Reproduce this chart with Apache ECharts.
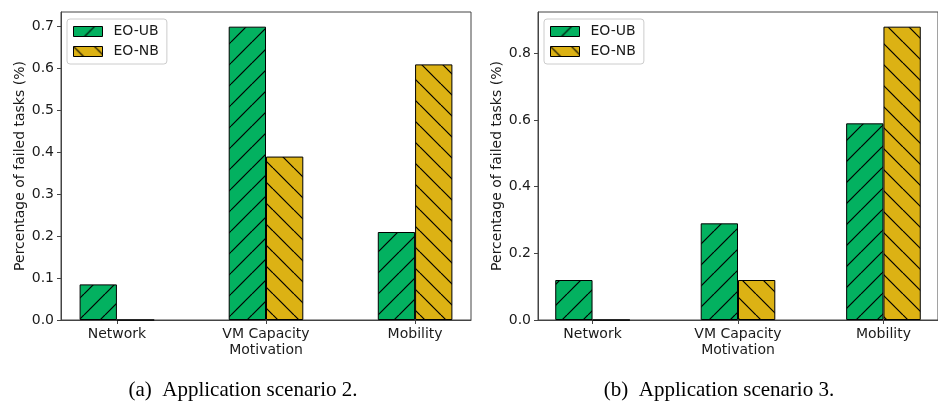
<!DOCTYPE html>
<html>
<head>
<meta charset="utf-8">
<script src="https://cdn.jsdelivr.net/npm/echarts@6/dist/echarts.min.js"></script>
<style>
  html, body { margin: 0; padding: 0; background: #fff; }
  #chart { width: 938px; height: 401px; }
</style>
</head>
<body>
<div id="chart"></div>
<script>
// Failure causes on the x axis
const categories = ['Network', 'VM Capacity\nMotivation', 'Mobility'];
const seriesNames = ['EO-UB', 'EO-NB'];

// Application scenario 2
const scenario2UB = [0.085, 0.70, 0.21];
const scenario2NB = [0.0, 0.39, 0.61];
// Application scenario 3
const scenario3UB = [0.12, 0.29, 0.59];
const scenario3NB = [0.0, 0.12, 0.88];

// y tick positions for each panel
const scenario2Ticks = [0, 0.1, 0.2, 0.3, 0.4, 0.5, 0.6, 0.7];
const scenario3Ticks = [0, 0.2, 0.4, 0.6, 0.8];

const captions = ['(a)  Application scenario 2.', '(b)  Application scenario 3.'];
const yTitle = 'Percentage of failed tasks (%)';

const GREEN = '#03b160';
const GOLD = '#dcb214';
const AXIS = '#444';
const TEXT = '#1a1a1a';
const FONT = 'DejaVu Sans';

// Hatch tile: coloured fill with 45 degree black lines
function hatch(fill, dir) {
  const s = 21;
  const c = document.createElement('canvas');
  c.width = s; c.height = s;
  const g = c.getContext('2d');
  g.fillStyle = fill;
  g.fillRect(0, 0, s, s);
  g.strokeStyle = '#000';
  g.lineWidth = 1.2;
  for (let k = -1; k <= 1; k++) {
    g.beginPath();
    if (dir === '/') { g.moveTo(k * s, s); g.lineTo(k * s + s, 0); }
    else { g.moveTo(k * s, 0); g.lineTo(k * s + s, s); }
    g.stroke();
  }
  return c;
}
const greenHatch = { image: hatch(GREEN, '/'), repeat: 'repeat' };
const goldHatch = { image: hatch(GOLD, '\\'), repeat: 'repeat' };

const panels = [
  { ub: scenario2UB, nb: scenario2NB, ticks: scenario2Ticks, left: 61, width: 410, legendLeft: 67, nameGap: 34, captionX: 243 },
  { ub: scenario3UB, nb: scenario3NB, ticks: scenario3Ticks, left: 538, width: 409, legendLeft: 544, nameGap: 33, captionX: 719 }
];

const pairs = vals => vals.map((v, i) => [i, v]);

const option = {
  animation: false,
  backgroundColor: '#fff',
  grid: panels.map(p => ({
    left: p.left, top: 12, width: p.width, height: 308,
    show: true, borderColor: AXIS, borderWidth: 1, backgroundColor: 'transparent'
  })),
  xAxis: panels.map((p, i) => ({
    type: 'value', gridIndex: i, min: -0.375, max: 2.375,
    splitLine: { show: false },
    axisLine: { show: true, onZero: false, lineStyle: { color: AXIS, width: 1 } },
    axisTick: { show: true, customValues: [0, 1, 2], length: 4, lineStyle: { color: AXIS } },
    axisLabel: {
      customValues: [0, 1, 2],
      formatter: v => (Number.isInteger(v) ? categories[v] : ''),
      fontFamily: FONT, fontSize: 14, color: TEXT, margin: 6, lineHeight: 16
    }
  })),
  yAxis: panels.map((p, i) => {
    const top = Math.max(...p.ub, ...p.nb) * 1.05;
    return {
      type: 'value', gridIndex: i, min: 0, max: top,
      splitLine: { show: false },
      axisLine: { show: true, onZero: false, lineStyle: { color: AXIS, width: 1 } },
      axisTick: { show: true, customValues: p.ticks, length: 4, lineStyle: { color: AXIS } },
      axisLabel: {
        customValues: p.ticks,
        formatter: v => v.toFixed(1),
        fontFamily: FONT, fontSize: 14, color: TEXT, margin: 7
      },
      name: yTitle, nameLocation: 'middle', nameGap: p.nameGap,
      nameTextStyle: { fontFamily: FONT, fontSize: 14, color: TEXT }
    };
  }),
  legend: panels.map(p => ({
    data: seriesNames,
    orient: 'vertical',
    left: p.legendLeft, top: 19,
    padding: [5, 8, 5, 6],
    itemWidth: 29, itemHeight: 10, itemGap: 5,
    icon: 'rect',
    itemStyle: { borderWidth: 1, borderColor: '#000' },
    backgroundColor: '#fff',
    borderColor: '#cccccc', borderWidth: 1, borderRadius: 3,
    textStyle: { fontFamily: FONT, fontSize: 14, color: TEXT, lineHeight: 15, padding: [0, 0, 0, 6] }
  })),
  series: panels.flatMap((p, i) => [
    {
      name: seriesNames[0], type: 'bar', xAxisIndex: i, yAxisIndex: i,
      data: pairs(p.ub), barWidth: 37.3, barGap: '0%',
      itemStyle: { color: greenHatch, borderColor: '#000', borderWidth: 1 }
    },
    {
      name: seriesNames[1], type: 'bar', xAxisIndex: i, yAxisIndex: i,
      data: pairs(p.nb), barWidth: 37.3, barGap: '0%',
      itemStyle: { color: goldHatch, borderColor: '#000', borderWidth: 1 }
    }
  ]),
  graphic: panels.map((p, i) => ({
    type: 'text', x: p.captionX, y: 390,
    style: {
      text: captions[i],
      font: '21px "Liberation Serif"', fill: '#000',
      textAlign: 'center', textVerticalAlign: 'middle'
    }
  }))
};

const chart = echarts.init(document.getElementById('chart'), null, { renderer: 'canvas' });
chart.setOption(option);
</script>
</body>
</html>
